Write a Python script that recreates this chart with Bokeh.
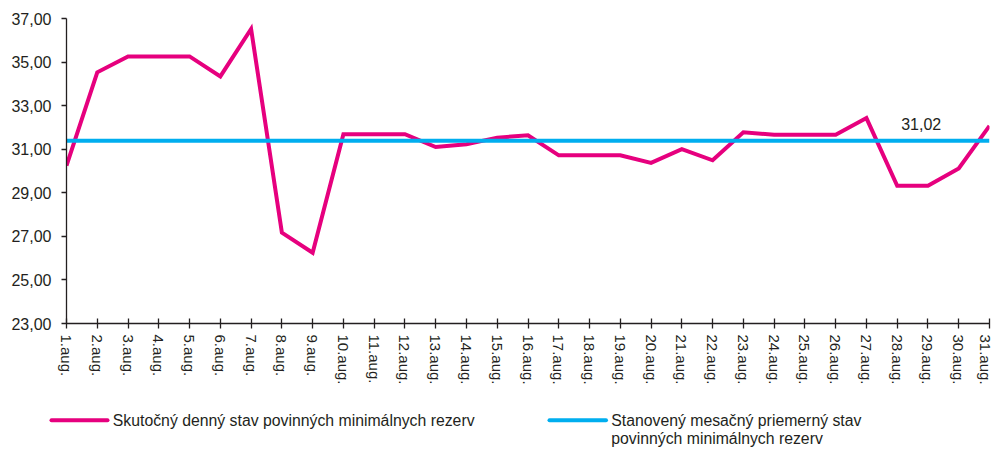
import math
from bokeh.plotting import figure
from bokeh.layouts import column
from bokeh.models import Range1d, FixedTicker
from bokeh.core.properties import value
from bokeh.embed import file_html
from bokeh.resources import INLINE

# ---- data ----
day_labels = ["1.aug.", "2.aug.", "3.aug.", "4.aug.", "5.aug.", "6.aug.", "7.aug.", "8.aug.",
              "9.aug.", "10.aug.", "11.aug.", "12.aug.", "13.aug.", "14.aug.", "15.aug.",
              "16.aug.", "17.aug.", "18.aug.", "19.aug.", "20.aug.", "21.aug.", "22.aug.",
              "23.aug.", "24.aug.", "25.aug.", "26.aug.", "27.aug.", "28.aug.", "29.aug.",
              "30.aug.", "31.aug."]
day_index = list(range(len(day_labels)))
actual_values = [30.25, 34.53, 35.26, 35.26, 35.26, 34.34, 36.52, 27.17, 26.25, 31.69,
                 31.69, 31.69, 31.10, 31.23, 31.53, 31.64, 30.72, 30.72, 30.72, 30.37,
                 31.00, 30.49, 31.78, 31.66, 31.66, 31.66, 32.43, 29.32, 29.32, 30.12, 32.07]
required_avg = 31.39
required_values = [required_avg] * len(day_labels)
avg_label = "31,02"
y_ticks = [23, 25, 27, 29, 31, 33, 35, 37]
y_tick_labels = ["23,00", "25,00", "27,00", "29,00", "31,00", "33,00", "35,00", "37,00"]
legend_actual = "Skutočný denný stav povinných minimálnych rezerv"
legend_required = ["Stanovený mesačný priemerný stav", "povinných minimálnych rezerv"]

PINK = "#E6007E"
BLUE = "#00AEEF"
TXT = "#231F20"
FONT = "Liberation Sans"

W = 993
BL, BR = 66, 4
H_MAIN = 393
H_LEG = 56

p = figure(width=W, height=H_MAIN, output_backend="svg", toolbar_location=None,
           x_range=Range1d(0, len(day_labels) - 1), y_range=Range1d(23, 37),
           min_border_left=BL, min_border_right=BR, min_border_top=18, min_border_bottom=70)
p.outline_line_color = None
p.xgrid.visible = False
p.ygrid.visible = False
p.background_fill_color = "white"
p.border_fill_color = "white"

p.line(day_index, actual_values, line_color=PINK, line_width=4, line_join="miter")
p.line(day_index, required_values, line_color=BLUE, line_width=4)
p.text(x=[27.78], y=[32.16], text=[avg_label], text_align="center", text_baseline="middle",
       text_font=value(FONT), text_font_size="16px", text_color=TXT)

# y axis
ya = p.yaxis[0]
ya.ticker = FixedTicker(ticks=y_ticks)
ya.major_label_overrides = {t: l for t, l in zip(y_ticks, y_tick_labels)}
ya.major_label_text_font = FONT
ya.major_label_text_font_size = "16px"
ya.major_label_text_color = TXT
ya.major_label_standoff = 10
ya.major_tick_out = 5
ya.major_tick_in = 0
ya.minor_tick_out = 0
ya.minor_tick_in = 0
ya.axis_line_color = TXT
ya.axis_line_width = 1.3
ya.major_tick_line_color = TXT
ya.major_tick_line_width = 1.3

# x axis
xa = p.xaxis[0]
xa.ticker = FixedTicker(ticks=day_index)
xa.major_label_overrides = {i: l for i, l in zip(day_index, day_labels)}
xa.major_label_orientation = "vertical"
xa.major_label_text_font = FONT
xa.major_label_text_font_size = "15px"
xa.major_label_text_color = TXT
xa.major_label_standoff = 6
xa.major_tick_out = 5
xa.major_tick_in = 5
xa.minor_tick_out = 0
xa.minor_tick_in = 0
xa.axis_line_color = TXT
xa.axis_line_width = 1.3
xa.major_tick_line_color = TXT
xa.major_tick_line_width = 1.3

# legend as separate strip (x/y coordinates = canvas pixels of this strip)
lg = figure(width=W, height=H_LEG, output_backend="svg", toolbar_location=None,
            x_range=Range1d(0, W), y_range=Range1d(H_LEG, 0),
            min_border_left=0, min_border_right=0, min_border_top=0, min_border_bottom=0)
if "frame_align" in lg.properties():
    lg.frame_align = False
    p.frame_align = False
lg.axis.visible = False
lg.grid.visible = False
lg.outline_line_color = None
lg.background_fill_color = "white"
lg.border_fill_color = "white"
lg.segment(x0=[51], y0=[26.7], x1=[107], y1=[26.7], line_color=PINK, line_width=4, line_cap="round")
lg.text(x=[112.3], y=[27], text=[legend_actual], text_align="left", text_baseline="middle",
        text_font=value(FONT), text_font_size="15.8px", text_color=TXT)
lg.segment(x0=[549], y0=[26.7], x1=[605.5], y1=[26.7], line_color=BLUE, line_width=4, line_cap="round")
lg.text(x=[610.7, 610.7], y=[27, 45], text=legend_required, text_align="left", text_baseline="middle",
        text_font=value(FONT), text_font_size="15.8px", text_color=TXT)

layout = column(p, lg, spacing=0)
open("out.html", "w").write(file_html(layout, INLINE))
